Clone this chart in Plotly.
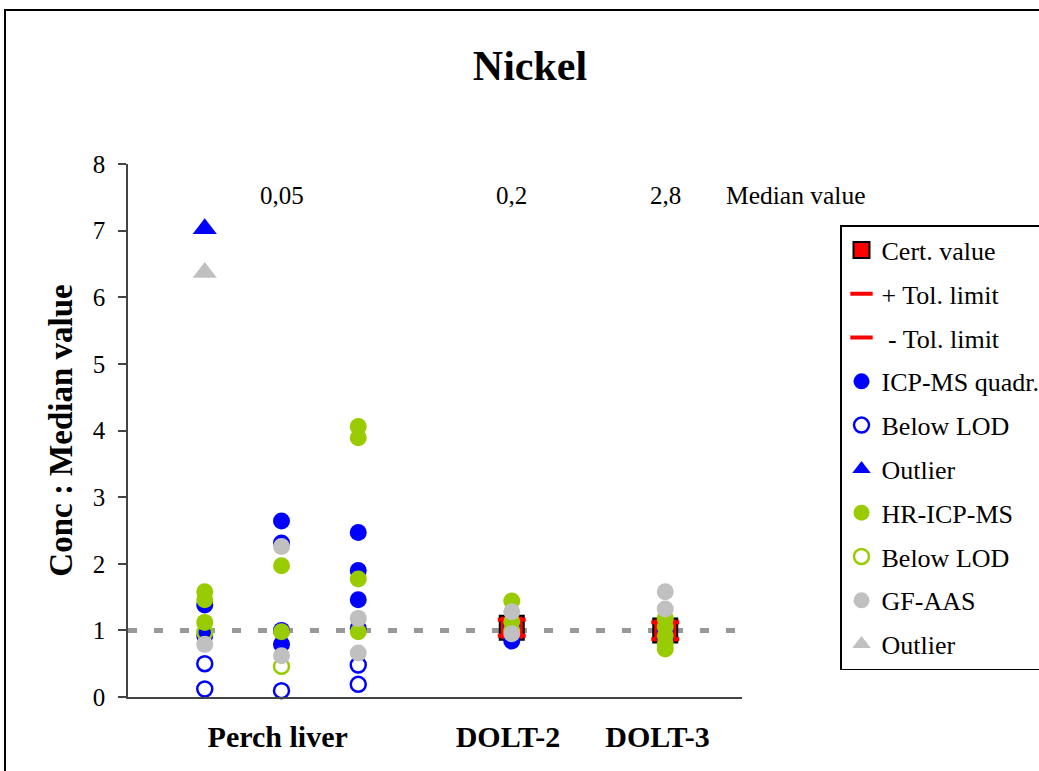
import plotly.graph_objects as go

# Column positions on a 0..8 axis: three perch liver samples (1-3), DOLT-2 (5), DOLT-3 (7)
category_labels = ["<b>Perch liver</b>", "<b>DOLT-2</b>", "<b>DOLT-3</b>"]
category_pos = [1.95, 4.95, 6.9]

median_text = ["0,05", "0,2", "2,8"]
median_pos = [2, 5, 7]
median_caption = "Median value"

# Certified value and tolerance limits (ratio to median)
cert_x = [5, 7]
cert_y = [1.04, 1.00]
tol_hi_y = [1.16, 1.12]
tol_lo_y = [0.92, 0.87]

# ICP-MS quadrupole results
icp_x = [1, 1, 2, 2, 2, 2, 3, 3, 3, 3, 5, 5, 7, 7]
icp_y = [1.38, 0.92, 2.64, 2.31, 1.00, 0.79, 2.47, 1.90, 1.46, 1.03, 1.05, 0.84, 1.00, 0.88]
icp_lod_x = [1, 1, 2, 3, 3]
icp_lod_y = [0.50, 0.12, 0.095, 0.48, 0.19]
icp_out_x = [1]
icp_out_y = [7.03]

# HR-ICP-MS results
hr_x = [1, 1, 1, 2, 2, 3, 3, 3, 3, 5, 5, 5, 7, 7, 7, 7, 7]
hr_y = [1.58, 1.46, 1.12, 1.97, 0.98, 4.06, 3.89, 1.77, 0.98, 1.44, 1.13, 1.00,
        1.18, 1.05, 0.92, 0.80, 0.72]
hr_lod_x = [1, 2]
hr_lod_y = [0.97, 0.46]

# GF-AAS results
gf_x = [1, 2, 2, 3, 3, 5, 5, 7, 7]
gf_y = [0.79, 2.26, 0.62, 1.18, 0.66, 1.28, 0.95, 1.58, 1.32]
gf_out_x = [1]
gf_out_y = [6.37]

ref_x = [0, 8]
ref_y = [1, 1]

BLUE = "#0000FF"
GREEN = "#99CC00"
GRAY = "#C0C0C0"
RED = "#FF0000"
FONT = "Liberation Serif, Times New Roman, serif"

fig = go.Figure()

fig.add_trace(go.Scatter(x=ref_x, y=ref_y, mode="lines", showlegend=False,
                         line=dict(color="#999999", width=5, dash="9px,17px"),
                         hoverinfo="skip"))


def pts(x, y, name, symbol, color, size=17, line_color=None, line_width=0):
    fig.add_trace(go.Scatter(
        x=x, y=y, mode="markers", name=name, legendgroup=name + symbol + color,
        cliponaxis=False,
        marker=dict(symbol=symbol, size=size, color=color,
                    line=dict(color=line_color or color, width=line_width)),
    ))


pts(cert_x, cert_y, "Cert. value", "square", RED, size=24, line_color="black", line_width=2)
pts(cert_x, tol_hi_y, "+ Tol. limit", "line-ew", RED, size=20, line_color=RED, line_width=4)
pts(cert_x, tol_lo_y, "\u00a0- Tol. limit", "line-ew", RED, size=20, line_color=RED, line_width=4)
pts(icp_x, icp_y, "ICP-MS quadr.", "circle", BLUE)
pts(icp_lod_x, icp_lod_y, "Below LOD", "circle-open", BLUE, size=15, line_width=2.5)
pts(icp_out_x, icp_out_y, "Outlier", "triangle-up", BLUE, size=21)
pts(hr_x, hr_y, "HR-ICP-MS", "circle", GREEN)
pts(hr_lod_x, hr_lod_y, "Below LOD", "circle-open", GREEN, size=15, line_width=2.5)
pts(gf_x, gf_y, "GF-AAS", "circle", GRAY)
pts(gf_out_x, gf_out_y, "Outlier", "triangle-up", GRAY, size=21)

annotations = [
    dict(x=x, y=7.53, text=t, showarrow=False, xref="x", yref="y",
         font=dict(family=FONT, size=25, color="black"))
    for x, t in zip(median_pos, median_text)
]
annotations.append(dict(x=7.76, y=7.53, text=median_caption, showarrow=False,
                        xref="x", yref="y", xanchor="left",
                        font=dict(family=FONT, size=25.5, color="black")))

fig.update_layout(
    width=1039, height=771,
    margin=dict(l=128, r=297, t=164, b=74, autoexpand=False),
    paper_bgcolor="white", plot_bgcolor="white",
    font=dict(family=FONT, size=25, color="black"),
    title=dict(text="<b>Nickel</b>", x=530 / 1039, y=1 - 65 / 771,
               xref="container", yref="container", xanchor="center", yanchor="middle",
               font=dict(family=FONT, size=42, color="black")),
    xaxis=dict(range=[0, 8], showgrid=False, zeroline=False, showline=True,
               linecolor="#444444", linewidth=1.5,
               tickmode="array", tickvals=category_pos, ticktext=category_labels,
               ticks="outside", ticklen=12, tickcolor="rgba(0,0,0,0)",
               tickfont=dict(family=FONT, size=30, color="black")),
    yaxis=dict(range=[0, 8], dtick=1, showgrid=False, zeroline=False, showline=True,
               linecolor="#444444", linewidth=1.5,
               ticks="outside", ticklen=8, tickcolor="#444444", tickwidth=1.5,
               ticklabelstandoff=8,
               tickfont=dict(family=FONT, size=25, color="black"),
               title=dict(text="<b>Conc : Median value</b>", standoff=10,
                          font=dict(family=FONT, size=33, color="black"))),
    legend=dict(x=(840 - 128) / 614, y=(697 - 225) / 533, xanchor="left", yanchor="top",
                bordercolor="black", borderwidth=1.5, bgcolor="white",
                tracegroupgap=7, itemwidth=30,
                font=dict(family=FONT, size=26, color="black")),
    annotations=annotations,
    shapes=[dict(type="rect", xref="paper", yref="paper",
                 x0=(5 - 128) / 614, x1=1.9, y0=-0.4, y1=(697 - 10) / 533,
                 line=dict(color="black", width=2), layer="below")],
    showlegend=True,
)

fig.write_html("out.html")
